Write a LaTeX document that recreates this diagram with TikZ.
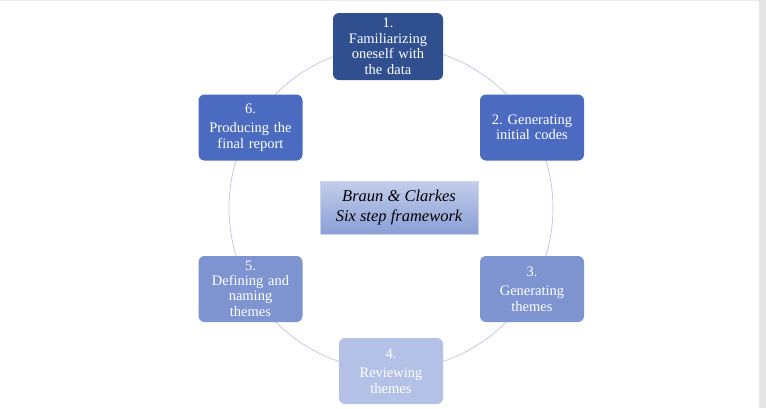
\documentclass[tikz,border=0pt]{standalone}
\usepackage{fontspec}
\setmainfont{Liberation Serif}
\definecolor{cA}{HTML}{2F4F8F}
\definecolor{cB}{HTML}{4A6BC0}
\definecolor{cC}{HTML}{7D94D0}
\definecolor{cD}{HTML}{B3C1E6}
\definecolor{ring}{HTML}{B4BFD8}
\frenchspacing
\begin{document}
\begin{tikzpicture}[x=1pt,y=-1pt,
 stepbox/.style={rounded corners=6pt,minimum width=104pt,minimum height=66pt,text width=102pt,align=center,text=white,font=\fontsize{14.5}{15.5}\selectfont,inner sep=1pt}]
\useasboundingbox (0,0) rectangle (766,408);
\fill[white] (0,0) rectangle (766,408);
\fill[gray!20] (759,0) rectangle (766,408);
\draw[gray!15] (0,0.5) -- (759,0.5);
\node[circle,draw=ring,line width=0.6pt,minimum size=324pt,inner sep=0pt] (c) at (391,208) {};
\node[stepbox,fill=cA,minimum width=110pt,minimum height=67pt] (n1) at (388,46.5) {1.\\Familiarizing\\oneself with\\the data};
\node[stepbox,fill=cB] (n2) at (532,127.5) {2. Generating\\initial codes};
\node[stepbox,fill=cC] (n3) at (532,289) {3.\\[4pt]Generating\\themes};
\node[stepbox,fill=cD] (n4) at (391,371) {4.\\[4pt]Reviewing\\themes};
\node[stepbox,fill=cC] (n5) at (250.5,289) {5.\\[-1pt]Defining and\\naming\\themes};
\node[stepbox,fill=cB] (n6) at (250.5,127.5) {6.\\[4pt]Producing the\\final report};
\node[top color=cD!80!white,bottom color=cC!90!white,draw=cD!70!white,minimum width=158pt,minimum height=53pt,align=center,font=\fontsize{16.5}{20}\selectfont\itshape,inner sep=1pt] (ctr) at (399,207.5) {Braun \& Clarkes\\Six step framework};
\end{tikzpicture}
\end{document}
